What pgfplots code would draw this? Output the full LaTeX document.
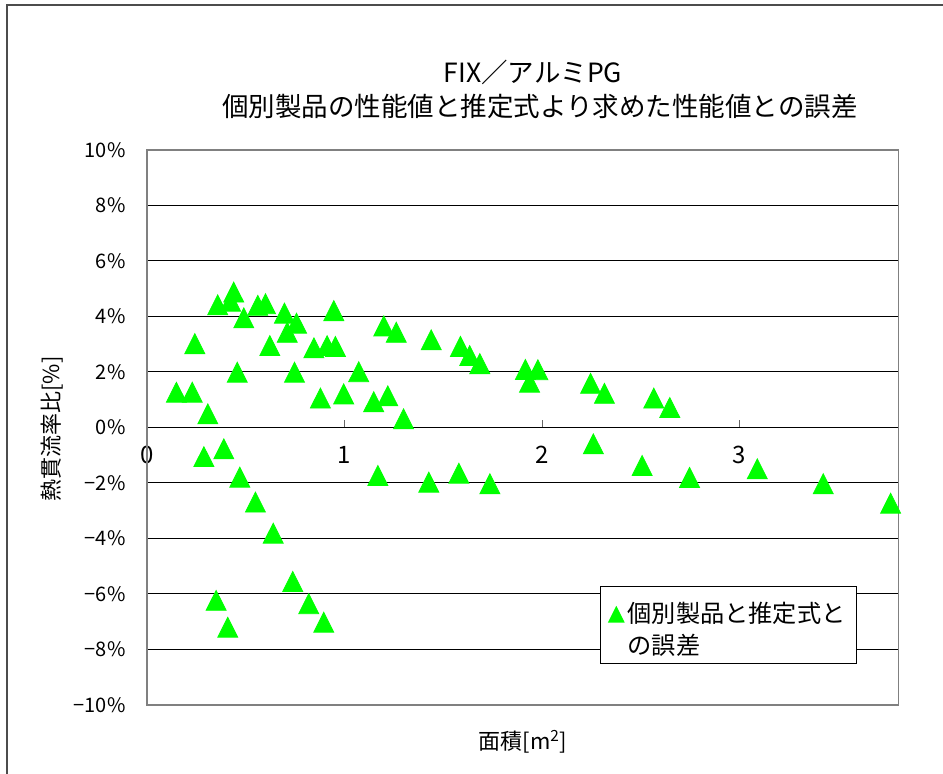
\documentclass[border=0pt]{standalone}
\usepackage{pgfplots}
\usepackage{pgfplotstable}
\pgfplotsset{compat=1.18}
\usepackage{fontspec}
\setmainfont{Noto Sans CJK JP}

\definecolor{marker}{RGB}{0,255,0}

% area [m2] vs error [%]
\pgfplotstableread{
x y
0.149 1.27
0.229 1.27
0.242 3.02
0.308 0.49
0.288 -1.05
0.389 -0.77
0.358 4.42
0.423 4.55
0.439 4.88
0.490 3.95
0.457 1.99
0.470 -1.79
0.549 -2.69
0.561 4.40
0.600 4.46
0.622 2.95
0.639 -3.81
0.696 4.12
0.710 3.43
0.757 3.76
0.747 1.99
0.738 -5.55
0.819 -6.35
0.895 -7.02
0.350 -6.23
0.409 -7.20
0.845 2.87
0.878 1.06
0.912 2.95
0.954 2.92
0.946 4.21
0.996 1.21
1.072 2.01
1.148 0.93
1.169 -1.73
1.199 3.66
1.219 1.14
1.262 3.43
1.299 0.31
1.427 -1.97
1.439 3.16
1.579 -1.65
1.587 2.92
1.634 2.59
1.685 2.30
1.736 -2.03
1.916 2.09
1.937 1.63
1.979 2.08
2.246 1.59
2.316 1.23
2.260 -0.59
2.507 -1.37
2.566 1.06
2.647 0.72
2.747 -1.80
3.090 -1.49
3.424 -2.03
3.765 -2.73
}\errdata

\begin{document}
\begin{tikzpicture}
\useasboundingbox (-73.5pt,-34.5pt) rectangle (398pt,352.5pt);
\draw[black!70,line width=0.6pt] (-70pt,-40pt) -- (-70pt,350pt) -- (400pt,350pt);
\begin{axis}[
  at={(0pt,0pt)}, anchor=south west,
  scale only axis, width=375.75pt, height=277.5pt,
  xmin=0, xmax=3.805, ymin=-10, ymax=10,
  axis x line=middle, axis y line=left,
  x axis line style={-, black, line width=0.5pt},
  y axis line style={-, black!50, line width=0.8pt},
  hide obscured x ticks=false, hide obscured y ticks=false,
  xtick={0,1,2,3}, xticklabels={0,1,2,3},
  ytick={-10,-8,...,10},
  yticklabels={−10\%,−8\%,−6\%,−4\%,−2\%,0\%,2\%,4\%,6\%,8\%,10\%},
  ymajorgrids, major grid style={black, line width=0.5pt},
  xtick align=inside, major tick length=3.5pt,
  x tick style={black!60, line width=0.5pt},
  y tick style={draw=none},
  xticklabel style={font=\fontsize{12}{13}\selectfont, anchor=center, yshift=-13.5pt},
  yticklabel style={font=\fontsize{10}{11}\selectfont, anchor=east, xshift=-5.5pt},
  clip=false,
  legend style={at={(rel axis cs:0.603,0.2144)}, anchor=north west,
    draw=black, line width=0.6pt, inner xsep=3.5pt, inner ysep=3.25pt,
    row sep=0pt, nodes={inner ysep=0pt, text height=14.85pt, text depth=1.15pt},
    font=\fontsize{12.1}{16}\selectfont, legend cell align=left},
  legend image code/.code={\draw[#1, mark size=4.3pt] plot coordinates {(0.15cm,-2.3pt)};},
]
\draw[black!50, line width=0.8pt] (rel axis cs:0,0) rectangle (rel axis cs:1,1);
\addplot[only marks, mark=triangle*, color=marker, mark size=5.77pt,
  mark options={yshift=-1.66pt, yscale=1.15}] table {\errdata};
\addlegendentry{個別製品と推定式と}
\addlegendimage{empty legend}
\addlegendentry{の誤差}
\end{axis}
\node[font=\fontsize{13.25}{16}\selectfont] at (193pt,316.5pt) {FIX／アルミPG};
\node[font=\fontsize{13.25}{16}\selectfont] at (196.5pt,299.5pt) {個別製品の性能値と推定式より求めた性能値との誤差};
\node[font=\fontsize{11}{13}\selectfont] at (188pt,-18.5pt) {面積[m\textsuperscript{2}]};
\node[font=\fontsize{11}{13}\selectfont, rotate=90] at (-47.5pt,138pt) {熱貫流率比[\%]};
\end{tikzpicture}
\end{document}
